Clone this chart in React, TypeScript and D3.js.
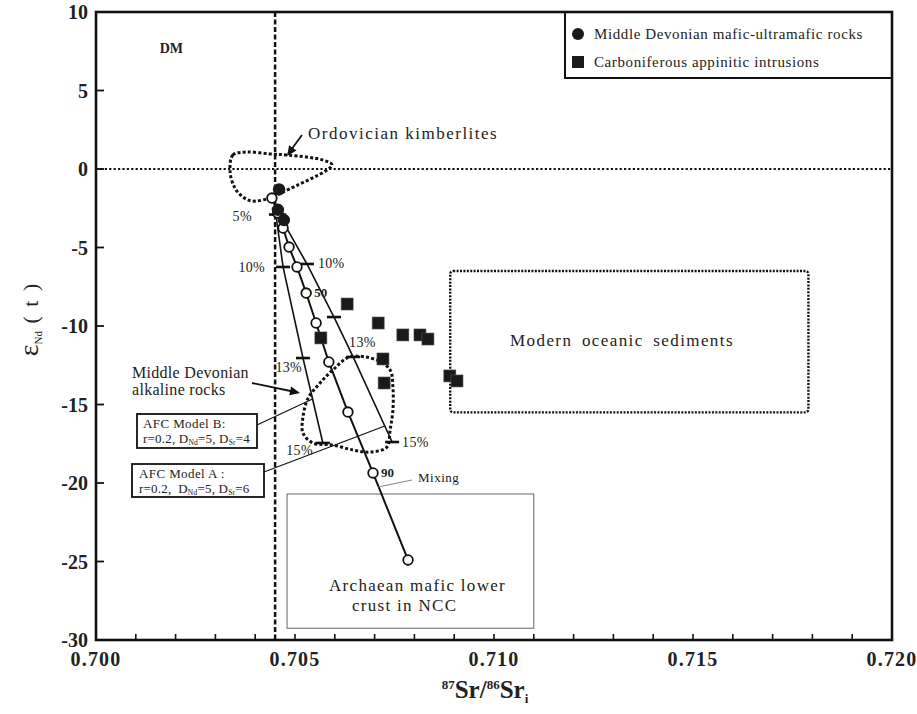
import React from 'react';
import * as d3 from 'd3';

const W = 917;
const H = 714;

// Middle Devonian mafic-ultramafic rocks
const maficSr = [0.7046, 0.70457, 0.70472];
const maficNd = [-1.3, -2.6, -3.25];

// Carboniferous appinitic intrusions
const appSr = [0.70631, 0.70709, 0.70565, 0.70771, 0.70814, 0.70834, 0.70721, 0.70724, 0.70889, 0.70907];
const appNd = [-8.6, -9.81, -10.76, -10.57, -10.57, -10.83, -12.1, -13.63, -13.18, -13.5];

// Binary mixing curve, 10% steps
const mixPct = [0, 10, 20, 30, 40, 50, 60, 70, 80, 90, 100];
const mixSr = [0.70442, 0.70457, 0.7047, 0.70485, 0.70505, 0.70528, 0.70553, 0.70585, 0.70633, 0.70696, 0.70784];
const mixNd = [-1.85, -2.8, -3.76, -4.97, -6.24, -7.9, -9.81, -12.29, -15.48, -19.36, -24.9];

// AFC models (shared starting composition)
const afcStart = { sr: 0.7045, nd: -2.4 };
const afcBPct = [5, 10, 13, 15];
const afcBSr = [0.70452, 0.7047, 0.7052, 0.7057];
const afcBNd = [-2.9, -6.24, -12.04, -17.45];
const afcAPct = [5, 10, 12, 13, 15];
const afcASr = [0.7046, 0.7053, 0.70598, 0.70646, 0.70744];
const afcANd = [-2.9, -6.05, -9.43, -11.97, -17.39];

// Ordovician kimberlites field outline
const kimbSr = [0.70337, 0.70344, 0.70379, 0.70437, 0.70482, 0.7057, 0.70593, 0.7047, 0.70437, 0.70392, 0.70369, 0.70349];
const kimbNd = [-0.19, 0.89, 1.08, 0.96, 0.89, 0.57, 0.25, -1.46, -1.85, -2.04, -1.78, -1.21];

// Middle Devonian alkaline rocks field outline
const alkSr = [0.70638, 0.70706, 0.70739, 0.70746, 0.70746, 0.70739, 0.70731, 0.70688, 0.70646, 0.70595, 0.70545, 0.7052, 0.7052, 0.70533, 0.70563, 0.70595];
const alkNd = [-11.97, -12.17, -12.8, -13.89, -15.35, -16.62, -17.71, -18.03, -17.9, -17.58, -17.45, -16.82, -15.8, -14.59, -13.63, -12.8];

// Reference fields
const sedimentSr = [0.7089, 0.7179];
const sedimentNd = [-15.5, -6.5];
const archaeanSr = [0.7048, 0.711];
const archaeanNd = [-29.25, -20.7];

// Axes
const xDomain = [0.7, 0.72];
const yDomain = [-30, 10];
const xTickLabels = [0.7, 0.705, 0.71, 0.715, 0.72];
const yTickLabels = [10, 5, 0, -5, -10, -15, -20, -25, -30];
const dmSr = 0.7045;

const serif = "'Liberation Serif', 'Times New Roman', Times, serif";

const x = d3.scaleLinear().domain(xDomain).range([96, 892]);
const y = d3.scaleLinear().domain(yDomain).range([640, 12]);

function arrowHead(x1: number, y1: number, x2: number, y2: number, len = 10, half = 4.5) {
  const a = Math.atan2(y2 - y1, x2 - x1);
  const bx = x2 - len * Math.cos(a);
  const by = y2 - len * Math.sin(a);
  const px = -Math.sin(a) * half;
  const py = Math.cos(a) * half;
  return `M${x2},${y2}L${bx + px},${by + py}L${bx - px},${by - py}Z`;
}

function pointOnLine(srs: number[], nds: number[], nd: number) {
  for (let i = 0; i < nds.length - 1; i++) {
    const a = nds[i], b = nds[i + 1];
    if ((nd <= a && nd >= b) || (nd >= a && nd <= b)) {
      const t = (nd - a) / (b - a);
      return [x(srs[i] + t * (srs[i + 1] - srs[i])), y(nd)];
    }
  }
  return [x(srs[srs.length - 1]), y(nds[nds.length - 1])];
}

export default function App() {
  const closed = d3.line<[number, number]>().x(d => x(d[0])).y(d => y(d[1])).curve(d3.curveCatmullRomClosed.alpha(0.5));
  const poly = d3.line<[number, number]>().x(d => x(d[0])).y(d => y(d[1]));

  const kimbPath = closed(kimbSr.map((s, i) => [s, kimbNd[i]] as [number, number])) || '';
  const alkPath = closed(alkSr.map((s, i) => [s, alkNd[i]] as [number, number])) || '';
  const mixPath = poly(mixSr.map((s, i) => [s, mixNd[i]] as [number, number])) || '';
  const bSr = [afcStart.sr, ...afcBSr];
  const bNd = [afcStart.nd, ...afcBNd];
  const aSr = [afcStart.sr, ...afcASr];
  const aNd = [afcStart.nd, ...afcANd];
  const bPath = poly(bSr.map((s, i) => [s, bNd[i]] as [number, number])) || '';
  const aPath = poly(aSr.map((s, i) => [s, aNd[i]] as [number, number])) || '';

  const xMinor = d3.range(1, 20).map(i => 0.7 + i * 0.001);
  const yMinor = [5, 0, -5, -10, -15, -20, -25];

  // label placement for AFC percentage ticks: [dx, dy, anchor]
  const bLabelPos: Record<number, [number, number, string]> = {
    5: [-24, 6, 'end'],
    10: [-18, 5, 'end'],
    13: [-1, 14, 'end'],
    15: [-10, 12, 'end'],
  };
  const aLabelPos: Record<number, [number, number, string]> = {
    10: [11, 4, 'start'],
    13: [-4, -10, 'start'],
    15: [10, 5, 'start'],
  };

  const bLeaderEnd = pointOnLine(bSr, bNd, -14.65);
  const aLeaderEnd = pointOnLine(aSr, aNd, -16.37);

  const pctFont = { fontSize: 14, letterSpacing: 0.3 } as const;

  return (
    <svg width={W} height={H} style={{ position: 'absolute', left: 0, top: 0, background: '#fff', fontFamily: serif }}>
      <style>{`text { font-family: ${serif}; }`}</style>
      <rect x={0} y={0} width={W} height={H} fill="#fff" />

      {/* reference lines */}
      <line x1={x(0.7)} x2={x(0.72)} y1={y(0)} y2={y(0)} stroke="#111" strokeWidth={1.8} strokeDasharray="2.2,2.2" />
      <line x1={x(dmSr)} x2={x(dmSr)} y1={y(10)} y2={y(-30)} stroke="#111" strokeWidth={2.5} strokeDasharray="5,2.5" />

      {/* fields */}
      <rect x={x(sedimentSr[0])} y={y(sedimentNd[1])} width={x(sedimentSr[1]) - x(sedimentSr[0])} height={y(sedimentNd[0]) - y(sedimentNd[1])}
        fill="none" stroke="#111" strokeWidth={2.4} strokeDasharray="2,1.4" rx={3} />
      <rect x={x(archaeanSr[0])} y={y(archaeanNd[1])} width={x(archaeanSr[1]) - x(archaeanSr[0])} height={y(archaeanNd[0]) - y(archaeanNd[1])}
        fill="none" stroke="#666" strokeWidth={1} />
      <path d={kimbPath} fill="none" stroke="#111" strokeWidth={3} strokeDasharray="3,2.2" />
      <path d={alkPath} fill="none" stroke="#111" strokeWidth={3} strokeDasharray="3,2.2" />

      {/* AFC and mixing curves */}
      <path d={bPath} fill="none" stroke="#111" strokeWidth={1.6} />
      <path d={aPath} fill="none" stroke="#111" strokeWidth={1.6} />
      <path d={mixPath} fill="none" stroke="#111" strokeWidth={2} />

      {afcBPct.map((p, i) => (
        <line key={'bt' + p} x1={x(afcBSr[i]) - 7} x2={x(afcBSr[i]) + 7} y1={y(afcBNd[i])} y2={y(afcBNd[i])} stroke="#111" strokeWidth={2.6} />
      ))}
      {afcAPct.map((p, i) => (
        <line key={'at' + p} x1={x(afcASr[i]) - 7} x2={x(afcASr[i]) + 7} y1={y(afcANd[i])} y2={y(afcANd[i])} stroke="#111" strokeWidth={2.6} />
      ))}
      {afcBPct.map((p, i) => bLabelPos[p] ? (
        <text key={'bl' + p} x={x(afcBSr[i]) + bLabelPos[p][0]} y={y(afcBNd[i]) + bLabelPos[p][1]} textAnchor={bLabelPos[p][2] as any} {...pctFont} fill="#222">{p}%</text>
      ) : null)}
      {afcAPct.map((p, i) => aLabelPos[p] ? (
        <text key={'al' + p} x={x(afcASr[i]) + aLabelPos[p][0]} y={y(afcANd[i]) + aLabelPos[p][1]} textAnchor={aLabelPos[p][2] as any} {...pctFont} fill="#222">{p}%</text>
      ) : null)}

      {/* data */}
      {appSr.map((s, i) => (
        <rect key={'sq' + i} x={x(s) - 6} y={y(appNd[i]) - 6} width={12} height={12} fill="#1a1a1a" stroke="#555" strokeWidth={0.6} />
      ))}
      {mixSr.map((s, i) => (
        <circle key={'mx' + i} cx={x(s)} cy={y(mixNd[i])} r={4.8} fill="#fff" stroke="#111" strokeWidth={1.8} />
      ))}
      {maficSr.map((s, i) => (
        <circle key={'mf' + i} cx={x(s)} cy={y(maficNd[i])} r={6.2} fill="#1a1a1a" />
      ))}

      {/* mixing annotations */}
      {mixPct.map((p, i) => (p === 50 || p === 90) ? (
        <text key={'mp' + p} x={x(mixSr[i]) + 8} y={y(mixNd[i]) + 4} fontSize={13} fontWeight="bold" fill="#222">{p}</text>
      ) : null)}
      <line x1={x(mixSr[9]) + 5} y1={y(mixNd[9]) + 14} x2={412} y2={480} stroke="#777" strokeWidth={0.9} />
      <text x={418} y={482} fontSize={13} letterSpacing={0.5} fill="#222">Mixing</text>

      {/* AFC model boxes */}
      <line x1={257} y1={425} x2={bLeaderEnd[0]} y2={bLeaderEnd[1]} stroke="#111" strokeWidth={1.2} />
      <line x1={264} y1={472} x2={aLeaderEnd[0]} y2={aLeaderEnd[1]} stroke="#111" strokeWidth={1.2} />
      <rect x={137} y={414} width={120} height={34} fill="#fff" stroke="#111" strokeWidth={1.8} />
      <text x={143} y={428} fontSize={13} letterSpacing={0.4} fill="#222">AFC Model B:</text>
      <text x={143} y={443} fontSize={13} letterSpacing={0.2} fill="#222">
        r=0.2, D<tspan fontSize={7.5} dy={2}>Nd</tspan><tspan dy={-2}>=5, D</tspan><tspan fontSize={7.5} dy={2}>Sr</tspan><tspan dy={-2}>=4</tspan>
      </text>
      <rect x={132} y={464} width={132} height={33} fill="#fff" stroke="#111" strokeWidth={1.8} />
      <text x={139} y={478} fontSize={13} letterSpacing={0.4} fill="#222">AFC Model A :</text>
      <text x={139} y={493} fontSize={13} letterSpacing={0.2} fill="#222" xmlSpace="preserve">
        r=0.2,  D<tspan fontSize={7.5} dy={2}>Nd</tspan><tspan dy={-2}>=5, D</tspan><tspan fontSize={7.5} dy={2}>Sr</tspan><tspan dy={-2}>=6</tspan>
      </text>

      {/* field labels */}
      <text x={x(0.7016)} y={53} fontSize={14} fontWeight="bold" fill="#222">DM</text>
      <text x={308} y={139} fontSize={17} letterSpacing={1.5} fill="#222">Ordovician kimberlites</text>
      <line x1={302} y1={135} x2={291} y2={150} stroke="#111" strokeWidth={1.8} />
      <path d={arrowHead(302, 135, 287, 156, 10, 4.5)} fill="#111" />

      <text x={132} y={378} fontSize={16} letterSpacing={0.3} fill="#222">Middle Devonian</text>
      <text x={132} y={395} fontSize={16} letterSpacing={0.3} fill="#222">alkaline rocks</text>
      <line x1={252} y1={383} x2={293} y2={391.5} stroke="#111" strokeWidth={1.8} />
      <path d={arrowHead(252, 383, 300, 393, 10, 4.5)} fill="#111" />

      <text x={622} y={346} textAnchor="middle" fontSize={17} letterSpacing={1.4} wordSpacing={4} fill="#222">Modern oceanic sediments</text>
      <text x={329} y={591} fontSize={17} letterSpacing={1.3} fill="#222">Archaean mafic lower</text>
      <text x={352} y={611} fontSize={17} letterSpacing={1.3} fill="#222">crust in NCC</text>

      {/* legend */}
      <rect x={565} y={12} width={327} height={66} fill="#fff" stroke="#111" strokeWidth={2} />
      <circle cx={578} cy={34} r={6} fill="#1a1a1a" />
      <text x={594} y={39} fontSize={15} letterSpacing={0.6} fill="#222">Middle Devonian mafic-ultramafic rocks</text>
      <rect x={572} y={56} width={12} height={12} fill="#1a1a1a" />
      <text x={594} y={67} fontSize={15} letterSpacing={0.6} fill="#222">Carboniferous appinitic intrusions</text>

      {/* frame and ticks */}
      <rect x={x(0.7)} y={y(10)} width={x(0.72) - x(0.7)} height={y(-30) - y(10)} fill="none" stroke="#111" strokeWidth={2.6} />
      {xMinor.map(v => (
        <line key={'xt' + v} x1={x(v)} x2={x(v)} y1={y(-30)} y2={y(-30) - 6} stroke="#111" strokeWidth={1.6} />
      ))}
      {yMinor.map(v => (
        <line key={'yt' + v} x1={x(0.7)} x2={x(0.7) + 8} y1={y(v)} y2={y(v)} stroke="#111" strokeWidth={1.8} />
      ))}
      {xTickLabels.map(v => (
        <text key={'xl' + v} x={x(v)} y={666} textAnchor="middle" fontSize={20} fontWeight="bold" letterSpacing={1.2} fill="#222">{v.toFixed(3)}</text>
      ))}
      {yTickLabels.map(v => (
        <text key={'yl' + v} x={88} y={y(v) + 7} textAnchor="end" fontSize={20} fontWeight="bold" fill="#222">{v}</text>
      ))}

      {/* axis titles */}
      <text x={485} y={698} textAnchor="middle" fontWeight="bold" fill="#222">
        <tspan fontSize={13} dy={-9}>87</tspan>
        <tspan fontSize={25} dy={9}>Sr/</tspan>
        <tspan fontSize={13} dy={-9}>86</tspan>
        <tspan fontSize={25} dy={9}>Sr</tspan>
        <tspan fontSize={13} dy={5}>i</tspan>
      </text>
      <text transform="translate(38,319) rotate(-90)" textAnchor="middle" fill="#222">
        <tspan fontSize={28}>ε</tspan>
        <tspan fontSize={11} dy={4}>Nd</tspan>
        <tspan fontSize={22} dy={-4} letterSpacing={2}> ( t )</tspan>
      </text>
    </svg>
  );
}
